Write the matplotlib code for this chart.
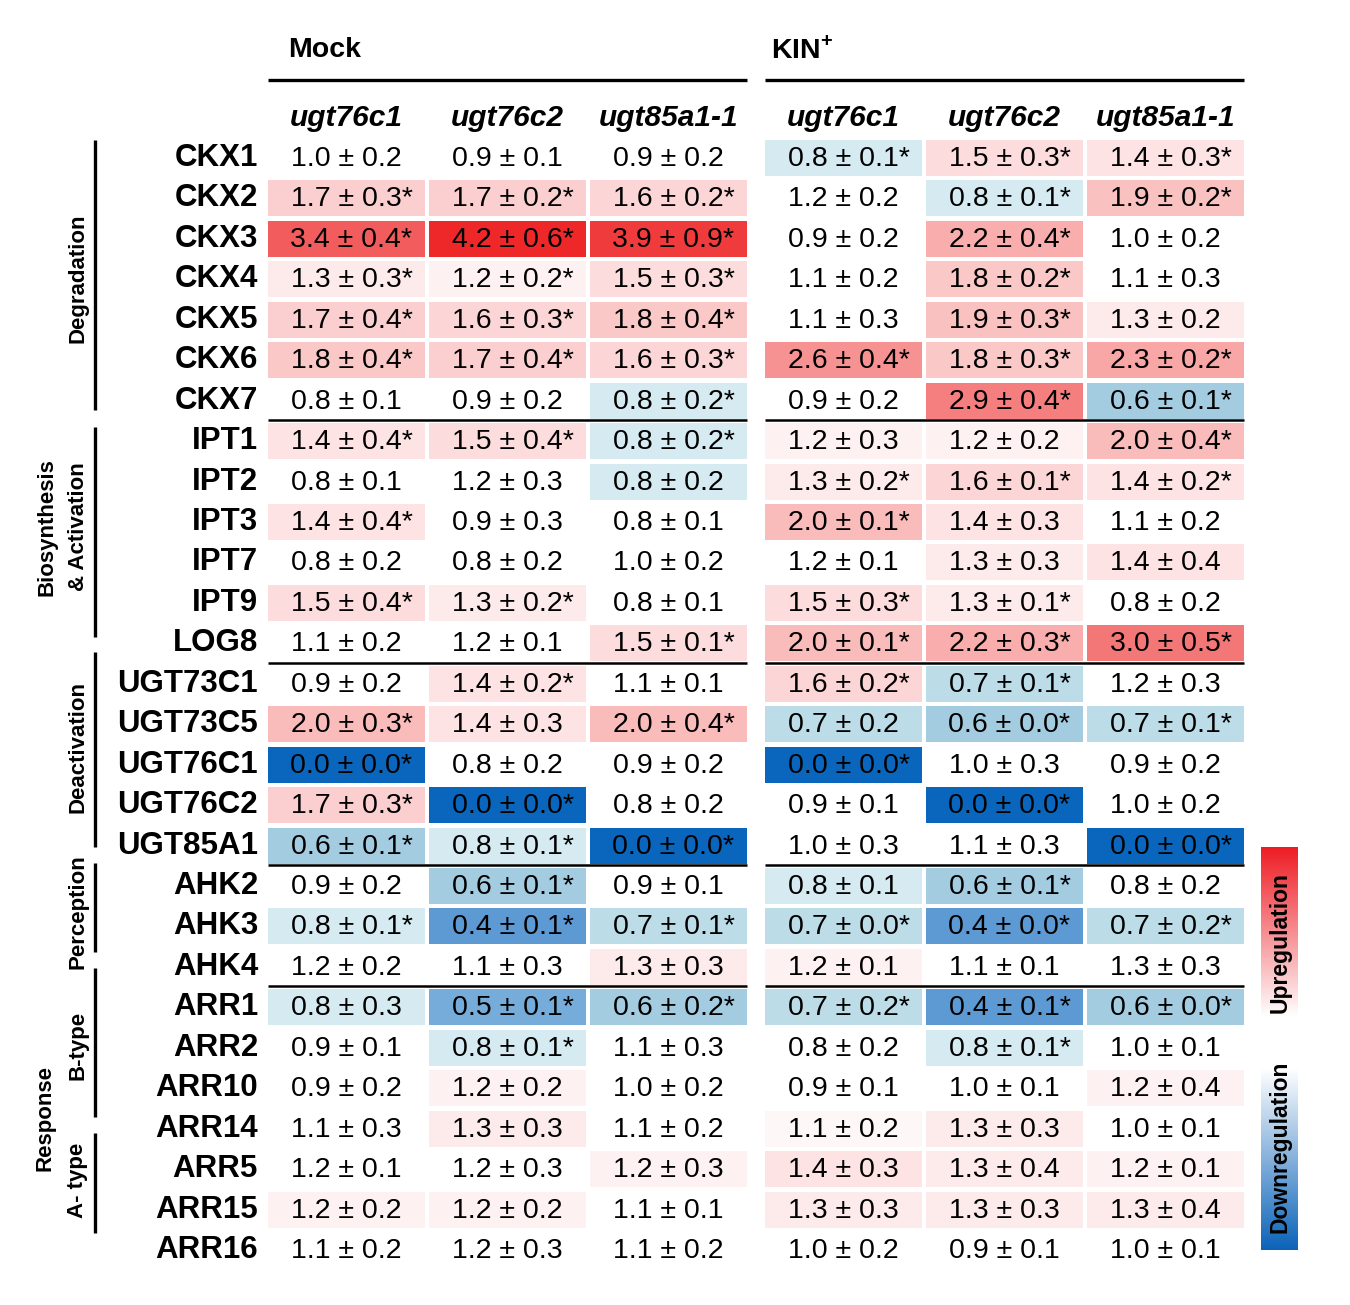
import numpy as np
import matplotlib

matplotlib.use("Agg")
import matplotlib.pyplot as plt
from matplotlib.colors import LinearSegmentedColormap, TwoSlopeNorm
from matplotlib.patches import Rectangle

plt.rcParams["font.family"] = ["Liberation Sans", "DejaVu Sans"]
plt.rcParams["mathtext.fontset"] = "custom"
plt.rcParams["mathtext.rm"] = "Liberation Sans:bold"
plt.rcParams["mathtext.bf"] = "Liberation Sans:bold"

############### DATA ###############
genes = ["CKX1", "CKX2", "CKX3", "CKX4", "CKX5", "CKX6", "CKX7",
         "IPT1", "IPT2", "IPT3", "IPT7", "IPT9", "LOG8",
         "UGT73C1", "UGT73C5", "UGT76C1", "UGT76C2", "UGT85A1",
         "AHK2", "AHK3", "AHK4",
         "ARR1", "ARR2", "ARR10", "ARR14", "ARR5", "ARR15", "ARR16"]
conditions = ["Mock", r"KIN$^{+}$"]
lines = ["ugt76c1", "ugt76c2", "ugt85a1-1"]

# columns: Mock ugt76c1, ugt76c2, ugt85a1-1, KIN+ ugt76c1, ugt76c2, ugt85a1-1
means = [
    [1.0, 0.9, 0.9, 0.8, 1.5, 1.4],
    [1.7, 1.7, 1.6, 1.2, 0.8, 1.9],
    [3.4, 4.2, 3.9, 0.9, 2.2, 1.0],
    [1.3, 1.2, 1.5, 1.1, 1.8, 1.1],
    [1.7, 1.6, 1.8, 1.1, 1.9, 1.3],
    [1.8, 1.7, 1.6, 2.6, 1.8, 2.3],
    [0.8, 0.9, 0.8, 0.9, 2.9, 0.6],
    [1.4, 1.5, 0.8, 1.2, 1.2, 2.0],
    [0.8, 1.2, 0.8, 1.3, 1.6, 1.4],
    [1.4, 0.9, 0.8, 2.0, 1.4, 1.1],
    [0.8, 0.8, 1.0, 1.2, 1.3, 1.4],
    [1.5, 1.3, 0.8, 1.5, 1.3, 0.8],
    [1.1, 1.2, 1.5, 2.0, 2.2, 3.0],
    [0.9, 1.4, 1.1, 1.6, 0.7, 1.2],
    [2.0, 1.4, 2.0, 0.7, 0.6, 0.7],
    [0.0, 0.8, 0.9, 0.0, 1.0, 0.9],
    [1.7, 0.0, 0.8, 0.9, 0.0, 1.0],
    [0.6, 0.8, 0.0, 1.0, 1.1, 0.0],
    [0.9, 0.6, 0.9, 0.8, 0.6, 0.8],
    [0.8, 0.4, 0.7, 0.7, 0.4, 0.7],
    [1.2, 1.1, 1.3, 1.2, 1.1, 1.3],
    [0.8, 0.5, 0.6, 0.7, 0.4, 0.6],
    [0.9, 0.8, 1.1, 0.8, 0.8, 1.0],
    [0.9, 1.2, 1.0, 0.9, 1.0, 1.2],
    [1.1, 1.3, 1.1, 1.1, 1.3, 1.0],
    [1.2, 1.2, 1.2, 1.4, 1.3, 1.2],
    [1.2, 1.2, 1.1, 1.3, 1.3, 1.3],
    [1.1, 1.2, 1.1, 1.0, 0.9, 1.0],
]
sds = [
    [0.2, 0.1, 0.2, 0.1, 0.3, 0.3],
    [0.3, 0.2, 0.2, 0.2, 0.1, 0.2],
    [0.4, 0.6, 0.9, 0.2, 0.4, 0.2],
    [0.3, 0.2, 0.3, 0.2, 0.2, 0.3],
    [0.4, 0.3, 0.4, 0.3, 0.3, 0.2],
    [0.4, 0.4, 0.3, 0.4, 0.3, 0.2],
    [0.1, 0.2, 0.2, 0.2, 0.4, 0.1],
    [0.4, 0.4, 0.2, 0.3, 0.2, 0.4],
    [0.1, 0.3, 0.2, 0.2, 0.1, 0.2],
    [0.4, 0.3, 0.1, 0.1, 0.3, 0.2],
    [0.2, 0.2, 0.2, 0.1, 0.3, 0.4],
    [0.4, 0.2, 0.1, 0.3, 0.1, 0.2],
    [0.2, 0.1, 0.1, 0.1, 0.3, 0.5],
    [0.2, 0.2, 0.1, 0.2, 0.1, 0.3],
    [0.3, 0.3, 0.4, 0.2, 0.0, 0.1],
    [0.0, 0.2, 0.2, 0.0, 0.3, 0.2],
    [0.3, 0.0, 0.2, 0.1, 0.0, 0.2],
    [0.1, 0.1, 0.0, 0.3, 0.3, 0.0],
    [0.2, 0.1, 0.1, 0.1, 0.1, 0.2],
    [0.1, 0.1, 0.1, 0.0, 0.0, 0.2],
    [0.2, 0.3, 0.3, 0.1, 0.1, 0.3],
    [0.3, 0.1, 0.2, 0.2, 0.1, 0.0],
    [0.1, 0.1, 0.3, 0.2, 0.1, 0.1],
    [0.2, 0.2, 0.2, 0.1, 0.1, 0.4],
    [0.3, 0.3, 0.2, 0.2, 0.3, 0.1],
    [0.1, 0.3, 0.3, 0.3, 0.4, 0.1],
    [0.2, 0.2, 0.1, 0.3, 0.3, 0.4],
    [0.2, 0.3, 0.2, 0.2, 0.1, 0.1],
]
# 1 = significant (asterisk)
signif = [
    [0, 0, 0, 1, 1, 1],
    [1, 1, 1, 0, 1, 1],
    [1, 1, 1, 0, 1, 0],
    [1, 1, 1, 0, 1, 0],
    [1, 1, 1, 0, 1, 0],
    [1, 1, 1, 1, 1, 1],
    [0, 0, 1, 0, 1, 1],
    [1, 1, 1, 0, 0, 1],
    [0, 0, 0, 1, 1, 1],
    [1, 0, 0, 1, 0, 0],
    [0, 0, 0, 0, 0, 0],
    [1, 1, 0, 1, 1, 0],
    [0, 0, 1, 1, 1, 1],
    [0, 1, 0, 1, 1, 0],
    [1, 0, 1, 0, 1, 1],
    [1, 0, 0, 1, 0, 0],
    [1, 1, 0, 0, 1, 0],
    [1, 1, 1, 0, 0, 1],
    [0, 1, 0, 0, 1, 0],
    [1, 1, 1, 1, 1, 1],
    [0, 0, 0, 0, 0, 0],
    [0, 1, 1, 1, 1, 1],
    [0, 1, 0, 0, 1, 0],
    [0, 0, 0, 0, 0, 0],
    [0, 0, 0, 0, 0, 0],
    [0, 0, 0, 0, 0, 0],
    [0, 0, 0, 0, 0, 0],
    [0, 0, 0, 0, 0, 0],
]
# 1 = cell is colour-coded in the original
shaded = [
    [0, 0, 0, 1, 1, 1],
    [1, 1, 1, 0, 1, 1],
    [1, 1, 1, 0, 1, 0],
    [1, 1, 1, 0, 1, 0],
    [1, 1, 1, 0, 1, 1],
    [1, 1, 1, 1, 1, 1],
    [0, 0, 1, 0, 1, 1],
    [1, 1, 1, 1, 1, 1],
    [0, 0, 1, 1, 1, 1],
    [1, 0, 0, 1, 1, 0],
    [0, 0, 0, 0, 1, 1],
    [1, 1, 0, 1, 1, 0],
    [0, 0, 1, 1, 1, 1],
    [0, 1, 0, 1, 1, 0],
    [1, 1, 1, 1, 1, 1],
    [1, 0, 0, 1, 0, 0],
    [1, 1, 0, 0, 1, 0],
    [1, 1, 1, 0, 0, 1],
    [0, 1, 0, 1, 1, 0],
    [1, 1, 1, 1, 1, 1],
    [0, 0, 1, 1, 0, 0],
    [1, 1, 1, 1, 1, 1],
    [0, 1, 0, 0, 1, 0],
    [0, 1, 0, 0, 0, 1],
    [0, 1, 0, 1, 1, 0],
    [0, 0, 1, 1, 1, 1],
    [1, 1, 0, 1, 1, 1],
    [0, 0, 0, 0, 0, 0],
]
# gene groups: label, bar top, bar bottom, text x, text y (pixel layout)
groups = [
    ("Degradation", 140, 410, 78, 278),
    ("Deactivation", 652, 847, 78, 747),
    ("Perception", 863, 952, 78, 912),
    ("B-type", 968, 1117, 78, 1045),
    ("A- type", 1133, 1233, 78, 1180),
]
separator_after = [6, 12, 17, 20]

############### LAYOUT ###############
W, H = 1350, 1305
ROW0, ROW_STEP = 158, (1250 - 158) / 27
CELL_H = 36
GROUP_LEFT = [268, 765]
HEADER_DX = [20, 6]
COL_STEP, CELL_W = 161, 157

cmap = LinearSegmentedColormap.from_list(
    "fold",
    [(0.0, "#0a66bc"), (0.2, "#5d9ad3"), (0.25, "#74abd9"), (0.3, "#a6cde1"),
     (0.35, "#bcdce7"), (0.4, "#d6eaf1"), (0.5, "#ffffff"), (1.0, "#ee2828")],
)
norm = TwoSlopeNorm(vmin=0.0, vcenter=1.0, vmax=4.2)

fig = plt.figure(figsize=(W / 100, H / 100), dpi=100)
ax = fig.add_axes([0, 0, 1, 1])
ax.set_xlim(0, W)
ax.set_ylim(H, 0)
ax.axis("off")


def col_left(j):
    return GROUP_LEFT[j // 3] + (j % 3) * COL_STEP


# condition headers
for g, cond in enumerate(conditions):
    x0 = GROUP_LEFT[g]
    ax.text(x0 + HEADER_DX[g], 50, cond, fontsize=20.5, fontweight="bold",
            ha="left", va="center")
    ax.plot([x0, x0 + 2 * COL_STEP + CELL_W], [80, 80], color="black", lw=2.4,
            solid_capstyle="butt")
    for k, ln in enumerate(lines):
        ax.text(x0 + k * COL_STEP + CELL_W / 2, 118, ln, fontsize=21.5,
                fontweight="bold", fontstyle="italic", ha="center", va="center")

# cells
for i, gene in enumerate(genes):
    yc = ROW0 + i * ROW_STEP
    ax.text(258, yc, gene, fontsize=22.5, fontweight="bold", ha="right", va="center")
    for j in range(6):
        x = col_left(j)
        if shaded[i][j]:
            ax.add_patch(Rectangle((x, yc - CELL_H / 2), CELL_W, CELL_H,
                                   facecolor=cmap(norm(means[i][j])), edgecolor="none"))
        label = f"{means[i][j]:.1f} ± {sds[i][j]:.1f}" + ("*" if signif[i][j] else "")
        ax.text(x + CELL_W / 2 + (5 if signif[i][j] else 0), yc + 1, label,
                fontsize=20.5, ha="center", va="center")

# horizontal separators between gene groups
for r in separator_after:
    y = ROW0 + (r + 0.5) * ROW_STEP - 1
    for g in range(2):
        x0 = GROUP_LEFT[g]
        ax.plot([x0, x0 + 2 * COL_STEP + CELL_W], [y, y], color="black", lw=1.8,
                solid_capstyle="butt", zorder=3)

# group bars and labels
for label, top, bottom, tx, ty in groups:
    ax.plot([95, 95], [top, bottom], color="black", lw=2.4, solid_capstyle="butt")
    ax.text(tx, ty, label, rotation=90, fontsize=16, fontweight="bold",
            ha="center", va="center")
ax.plot([95, 95], [427, 637], color="black", lw=2.4, solid_capstyle="butt")
ax.text(47, 527, "Biosynthesis", rotation=90, fontsize=16, fontweight="bold",
        ha="center", va="center")
ax.text(78, 527, "& Activation", rotation=90, fontsize=16, fontweight="bold",
        ha="center", va="center")
ax.text(45, 1118, "Response", rotation=90, fontsize=16, fontweight="bold",
        ha="center", va="center")

# colour legend: red strong at top, blue strong at bottom
grad = np.linspace(0, 1, 256).reshape(-1, 1)
up = LinearSegmentedColormap.from_list("up", ["#ffffff", "#ee1c24"])
down = LinearSegmentedColormap.from_list("down", ["#ffffff", "#0b63b8"])
ax.imshow(grad, cmap=up, extent=(1261, 1298, 1017, 847), aspect="auto", origin="lower")
ax.imshow(grad, cmap=down, extent=(1261, 1298, 1068, 1250), aspect="auto", origin="lower")
ax.text(1280, 943, "Upregulation", rotation=90, fontsize=16.5, fontweight="bold",
        ha="center", va="center")
ax.text(1280, 1147, "Downregulation", rotation=90, fontsize=16.5, fontweight="bold",
        ha="center", va="center")
ax.set_xlim(0, W)
ax.set_ylim(H, 0)

fig.savefig("out.png", dpi=100)
